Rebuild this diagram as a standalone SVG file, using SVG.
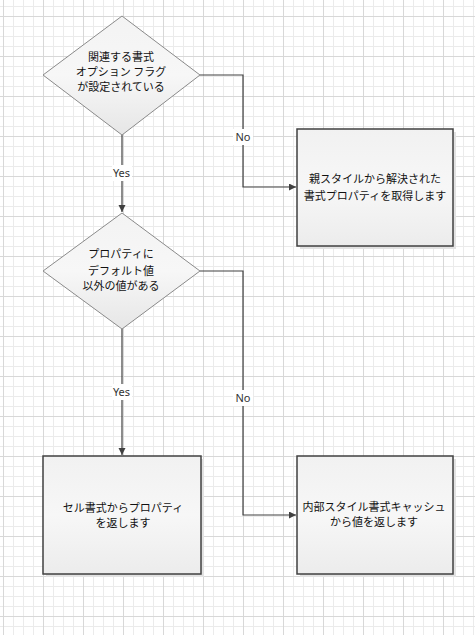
<svg xmlns="http://www.w3.org/2000/svg" width="475" height="635" viewBox="0 0 475 635">
<style>
.jp{font-family:"Noto Sans CJK JP","Noto Sans",sans-serif;font-size:11px;fill:#111;text-anchor:middle}
.lbl{font-family:"Noto Sans","Liberation Sans",sans-serif;font-size:11px;fill:#333;text-anchor:middle}
.conn{fill:none;stroke:#404040;stroke-width:1.2}
.dia{fill:url(#gd);stroke:#8a8a8a;stroke-width:1}
.box{fill:url(#gb);stroke:#404040;stroke-width:1.5}
.shadow{fill:#e2e2e2}
.lblbg{fill:#ffffff}
</style>
<defs>
<pattern id="minor" x="3" y="6" width="10" height="10" patternUnits="userSpaceOnUse">
<path d="M0.5,0V10M0,0.5H10" stroke="#ebebeb" stroke-width="1" fill="none"/>
</pattern>
<pattern id="major" x="3" y="16" width="40" height="40" patternUnits="userSpaceOnUse">
<path d="M0.5,0V40M0,0.5H40" stroke="#d8d8d8" stroke-width="1" fill="none"/>
</pattern>
<linearGradient id="gd" x1="0" y1="0" x2="0" y2="1">
<stop offset="0" stop-color="#f3f3f3"/>
<stop offset="0.5" stop-color="#f7f7f7"/>
<stop offset="1" stop-color="#e6e6e6"/>
</linearGradient>
<linearGradient id="gb" x1="0" y1="0" x2="0" y2="1">
<stop offset="0" stop-color="#f1f1f1"/>
<stop offset="0.5" stop-color="#f7f7f7"/>
<stop offset="1" stop-color="#ececec"/>
</linearGradient>
<marker id="arr" markerWidth="8" markerHeight="8" refX="7" refY="3.5" orient="auto" markerUnits="userSpaceOnUse">
<path d="M0,0L7,3.5L0,7z" fill="#404040"/>
</marker>
</defs>
<rect width="475" height="635" fill="#ffffff"/>
<rect width="475" height="635" fill="url(#minor)"/>
<rect width="475" height="635" fill="url(#major)"/>

<g id="connectors">
<path class="conn" d="M122,135V212" marker-end="url(#arr)"/>
<path class="conn" d="M200,75H243V187H296" marker-end="url(#arr)"/>
<path class="conn" d="M122,329V455" marker-end="url(#arr)"/>
<path class="conn" d="M200,271H243V515H296" marker-end="url(#arr)"/>
<rect class="lblbg" x="112" y="165" width="20" height="16"/>
<text class="lbl" x="121.5" y="177">Yes</text>
<rect class="lblbg" x="233" y="129" width="20" height="16"/>
<text class="lbl" x="243" y="141">No</text>
<rect class="lblbg" x="112" y="384" width="20" height="16"/>
<text class="lbl" x="121.5" y="396">Yes</text>
<rect class="lblbg" x="233" y="390" width="20" height="16"/>
<text class="lbl" x="243" y="402">No</text>
</g>

<g id="decision1">
<polygon class="dia" points="122,16 200,75 122,135 43,75"/>
<text class="jp" x="121" y="61">関連する書式</text>
<text class="jp" x="121" y="76">オプション フラグ</text>
<text class="jp" x="121" y="91">が設定されている</text>
</g>

<g id="box1">
<rect class="shadow" x="300" y="132" width="156" height="117"/>
<rect class="box" x="297" y="129" width="156" height="117"/>
<text class="jp" x="375" y="183">親スタイルから解決された</text>
<text class="jp" x="375" y="200">書式プロパティを取得します</text>
</g>

<g id="decision2">
<polygon class="dia" points="122,213 200,271 122,329 43,271"/>
<text class="jp" x="121" y="258">プロパティに</text>
<text class="jp" x="121" y="275">デフォルト値</text>
<text class="jp" x="121" y="290">以外の値がある</text>
</g>

<g id="box3">
<rect class="shadow" x="46" y="459" width="158" height="118"/>
<rect class="box" x="43" y="456" width="158" height="118"/>
<text class="jp" x="123" y="512">セル書式からプロパティ</text>
<text class="jp" x="123" y="527">を返します</text>
</g>

<g id="box4">
<rect class="shadow" x="300" y="459" width="156" height="118"/>
<rect class="box" x="297" y="456" width="156" height="118"/>
<text class="jp" x="374" y="511">内部スタイル書式キャッシュ</text>
<text class="jp" x="374" y="526">から値を返します</text>
</g>
</svg>
